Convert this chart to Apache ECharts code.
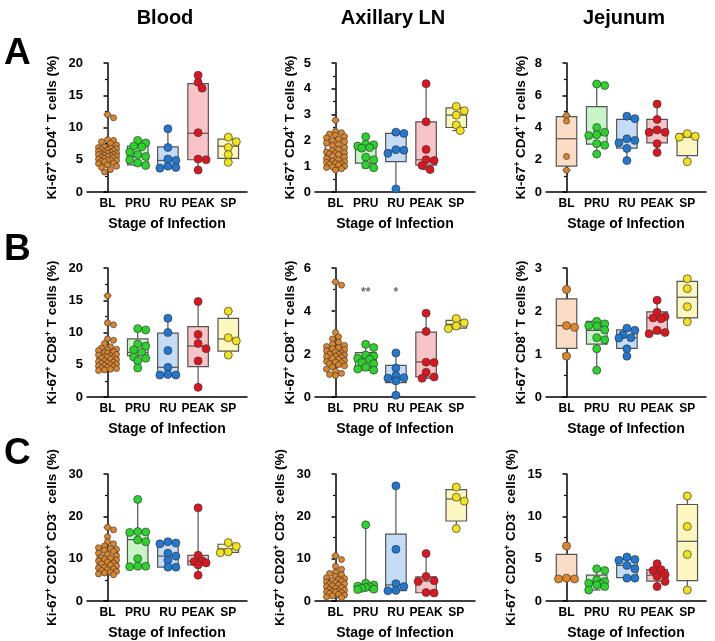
<!DOCTYPE html>
<html><head><meta charset="utf-8">
<script src="https://cdn.jsdelivr.net/npm/echarts@6/dist/echarts.min.js"></script>
<style>html,body{margin:0;padding:0;background:#fff}#c{width:715px;height:641px}</style>
</head><body><div id="c"></div>
<script>
// ---------- DATA ----------
const categories = ['BL', 'PRU', 'RU', 'PEAK', 'SP'];
const tissues = ['Blood', 'Axillary LN', 'Jejunum'];
const panelLetters = ['A', 'B', 'C'];
const xTitle = 'Stage of Infection';
// y-axis maxima and tick steps per row (A,B,C) and column (Blood, ALN, Jejunum)
const yAxisMax = [[20, 5, 8], [20, 6, 3], [30, 30, 15]];
const yAxisStep = [[5, 1, 2], [5, 2, 1], [10, 10, 5]];
const sigMarks = ['', '**', '*', '', ''];
const sigLevel = 4.85;

// Row A: Ki-67+ CD4+ T cells (%)
const bloodCD4 = [
  [12.0, 11.5, 8.1, 8.0, 7.8, 7.5, 7.3, 7.0, 6.9, 6.8, 6.7, 6.6, 6.5, 6.4, 6.3, 6.2, 6.1, 6.0, 6.0, 5.9, 5.8, 5.8, 5.7, 5.6, 5.5, 5.5, 5.4, 5.3, 5.2, 5.1, 5.0, 4.9, 4.9, 4.8, 4.7, 4.5, 4.4, 4.2, 4.0, 3.8, 3.5, 3.1],
  [8.0, 7.6, 7.1, 7.0, 6.2, 5.8, 5.5, 5.0, 4.5, 4.1],
  [9.8, 6.9, 5.1, 4.9, 4.0, 3.8, 3.7],
  [18.1, 17.0, 16.1, 9.2, 5.1, 5.0, 3.4],
  [8.5, 7.8, 6.9, 5.8, 4.6]
];
const bloodCD4Box = [[3.1, 4.9, 5.8, 6.9, 12.0], [4.1, 4.2, 5.5, 7.1, 8.0], [3.7, 3.85, 4.9, 7.0, 9.8], [3.4, 5.0, 9.1, 16.8, 18.1], [4.6, 5.2, 7.1, 8.2, 8.5]];

const alnCD4 = [
  [2.78, 2.35, 2.3, 2.25, 2.2, 2.15, 2.1, 2.05, 2.0, 1.95, 1.9, 1.85, 1.8, 1.72, 1.65, 1.6, 1.55, 1.52, 1.5, 1.48, 1.45, 1.4, 1.35, 1.3, 1.25, 1.2, 1.18, 1.15, 1.12, 1.1, 1.08, 1.05, 1.0, 0.98, 0.95, 0.9, 0.85],
  [2.14, 1.85, 1.83, 1.78, 1.72, 1.7, 1.35, 1.25, 1.05, 0.94],
  [2.32, 2.27, 1.64, 1.62, 1.5, 0.12],
  [4.2, 2.72, 1.65, 1.25, 1.22, 1.03, 0.87],
  [3.32, 3.15, 2.98, 2.6, 2.38]
];
const alnCD4Box = [[0.85, 1.13, 1.5, 2.06, 2.78], [0.94, 1.12, 1.72, 1.8, 2.14], [0.12, 1.18, 1.62, 2.27, 2.32], [0.87, 1.04, 1.25, 2.72, 4.2], [2.38, 2.5, 2.98, 3.26, 3.32]];

const jejCD4 = [
  [4.75, 4.4, 2.2, 1.35],
  [6.7, 6.6, 4.0, 3.7, 3.55, 3.5, 3.0, 2.9, 2.35],
  [4.7, 4.55, 3.3, 3.2, 3.05, 2.7, 1.95],
  [5.45, 4.5, 3.85, 3.7, 3.7, 3.0, 2.45],
  [3.62, 3.45, 3.4, 1.88]
];
const jejCD4Box = [[1.35, 1.6, 3.3, 4.68, 4.75], [2.35, 2.97, 3.55, 5.3, 6.7], [1.95, 2.72, 3.25, 4.5, 4.7], [2.45, 3.05, 3.8, 4.5, 5.45], [1.88, 2.25, 3.4, 3.6, 3.62]];

// Row B: Ki-67+ CD8+ T cells (%)
const bloodCD8 = [
  [15.7, 11.5, 11.2, 9.0, 8.8, 8.3, 7.8, 7.6, 7.4, 7.3, 7.2, 7.0, 6.9, 6.8, 6.6, 6.5, 6.4, 6.3, 6.2, 6.1, 6.0, 5.9, 5.8, 5.6, 5.5, 5.4, 5.3, 5.2, 5.1, 5.0, 4.9, 4.8, 4.7, 4.6, 4.5, 4.4, 4.3, 4.2, 4.1],
  [10.6, 10.4, 8.2, 7.9, 7.3, 6.9, 6.2, 6.0, 5.6, 4.5],
  [12.2, 10.0, 7.2, 4.6, 3.5, 3.4, 3.4],
  [14.8, 9.7, 8.3, 7.5, 5.6, 1.5],
  [13.3, 9.2, 8.7, 6.5]
];
const bloodCD8Box = [[4.1, 4.9, 6.2, 7.3, 15.7], [4.5, 6.4, 6.9, 9.0, 10.6], [3.4, 3.4, 4.6, 9.9, 12.2], [1.5, 4.7, 7.9, 10.9, 14.8], [6.5, 7.1, 9.0, 12.2, 13.3]];

const alnCD8 = [
  [5.35, 5.2, 3.0, 2.8, 2.7, 2.55, 2.45, 2.4, 2.35, 2.3, 2.25, 2.2, 2.15, 2.1, 2.05, 2.0, 1.98, 1.95, 1.9, 1.88, 1.85, 1.8, 1.75, 1.7, 1.65, 1.62, 1.6, 1.55, 1.5, 1.45, 1.4, 1.3, 1.2, 1.1, 1.05, 1.0],
  [2.45, 2.3, 1.95, 1.9, 1.8, 1.75, 1.6, 1.55, 1.38, 1.3, 1.25],
  [2.05, 1.35, 1.0, 0.9, 0.88, 0.75, 0.08],
  [3.9, 3.05, 1.62, 1.6, 1.15, 0.93, 0.87],
  [3.65, 3.45, 3.3, 3.18]
];
const alnCD8Box = [[1.0, 1.64, 1.95, 2.33, 5.35], [1.25, 1.36, 1.83, 2.06, 2.45], [0.08, 0.67, 0.89, 1.47, 2.05], [0.87, 0.94, 1.63, 3.02, 3.9], [3.18, 3.2, 3.38, 3.56, 3.65]];

const jejCD8 = [
  [2.5, 1.66, 1.62, 0.95],
  [1.76, 1.7, 1.66, 1.65, 1.56, 1.38, 1.33, 1.12, 0.62],
  [1.6, 1.55, 1.45, 1.38, 1.37, 1.12, 0.95],
  [2.25, 1.97, 1.87, 1.84, 1.82, 1.55, 1.5, 1.47],
  [2.75, 2.52, 2.1, 1.75]
];
const jejCD8Box = [[0.95, 1.13, 1.66, 2.28, 2.5], [0.62, 1.23, 1.55, 1.76, 1.77], [0.95, 1.13, 1.38, 1.56, 1.6], [1.47, 1.5, 1.84, 1.98, 2.25], [1.75, 1.84, 2.32, 2.69, 2.75]];

// Row C: Ki-67+ CD20+ CD3- cells (%)
const bloodCD20 = [
  [17.4, 16.8, 15.2, 14.0, 13.5, 13.0, 12.6, 12.4, 12.2, 12.0, 11.7, 11.3, 11.0, 10.7, 10.4, 10.1, 9.9, 9.7, 9.5, 9.2, 9.0, 8.8, 8.5, 8.3, 8.0, 7.8, 7.6, 7.4, 7.2, 7.0, 6.8, 6.6, 6.4, 6.2],
  [24.0, 16.4, 16.3, 16.2, 14.4, 14.0, 10.0, 8.2, 8.2, 8.1],
  [14.0, 13.7, 13.5, 11.3, 10.6, 9.6, 8.0, 8.0],
  [22.0, 10.8, 9.5, 9.3, 9.0, 8.5, 6.1],
  [13.8, 12.9, 11.6, 11.4]
];
const bloodCD20Box = [[6.2, 7.7, 9.95, 12.4, 17.4], [8.1, 8.2, 14.5, 16.4, 24.0], [8.0, 8.0, 10.6, 13.6, 14.0], [6.1, 8.5, 9.4, 10.8, 22.0], [11.4, 11.5, 12.3, 13.4, 13.8]];

const alnCD20 = [
  [10.7, 9.8, 8.2, 7.5, 6.8, 6.5, 6.2, 5.8, 5.5, 5.3, 5.1, 4.9, 4.7, 4.5, 4.3, 4.1, 4.0, 3.8, 3.6, 3.4, 3.2, 3.0, 2.8, 2.6, 2.4, 2.3, 2.2, 2.1, 2.0, 1.8, 1.6, 1.4, 1.2, 1.0, 0.8],
  [18.0, 4.2, 3.8, 3.5, 3.4, 3.2, 3.0, 2.8, 2.7],
  [27.2, 12.2, 4.1, 3.4, 2.5, 2.4],
  [11.2, 5.8, 4.8, 4.6, 2.0, 1.9],
  [26.9, 24.5, 23.6, 17.1]
];
const alnCD20Box = [[0.8, 2.1, 3.9, 5.3, 10.7], [2.7, 2.8, 3.4, 4.0, 18.0], [2.4, 2.45, 3.8, 15.8, 27.2], [1.9, 1.95, 4.7, 5.7, 11.2], [17.1, 18.9, 24.1, 26.3, 26.9]];

const jejCD20 = [
  [6.5, 2.7, 2.6, 2.6],
  [3.8, 3.6, 2.5, 2.3, 2.1, 2.0, 1.9, 1.7, 1.3],
  [5.2, 4.9, 4.8, 4.2, 3.8, 2.7, 2.7],
  [4.4, 3.7, 3.6, 3.1, 2.9, 2.3, 1.7],
  [12.4, 8.8, 5.5, 1.3]
];
const jejCD20Box = [[2.6, 2.6, 2.65, 5.5, 6.5], [1.3, 2.05, 2.3, 3.05, 3.8], [2.7, 2.75, 4.2, 4.9, 5.2], [1.7, 2.35, 3.05, 3.7, 4.4], [1.3, 2.4, 7.05, 11.4, 12.4]];

// ---------- STYLE / LAYOUT ----------
const FONT = '"Liberation Sans", Arial, sans-serif';
const pointColors = ['#e0862a', '#2bd42b', '#1f78d2', '#e0141e', '#f2e21c'];
const boxFills = ['#fcdcc4', '#c8f4c8', '#c4dcf6', '#f9c4c8', '#fdf7c0'];
const colLeft = [87, 315, 546];
const rowTop = [63, 268, 474];
const GRID_W = 160, GRID_H = 129;
const X_MIN = -0.68, X_MAX = 4.62;

const yNames = [
  '{t|Ki-67}{s|+}{t| CD4}{s|+}{t| T cells (%)}',
  '{t|Ki-67}{s|+}{t| CD8}{s|+}{t| T cells (%)}',
  '{t|Ki-67}{s|+}{t| CD20}{s|+}{t| CD3}{s|-}{t|  cells (%)}'
];
const panelData = [
  [[bloodCD4, bloodCD4Box], [alnCD4, alnCD4Box], [jejCD4, jejCD4Box]],
  [[bloodCD8, bloodCD8Box], [alnCD8, alnCD8Box], [jejCD8, jejCD8Box]],
  [[bloodCD20, bloodCD20Box], [alnCD20, alnCD20Box], [jejCD20, jejCD20Box]]
];

// beeswarm layout (pixel offsets, bounded to about the box width)
function swarm(vals, size, yPerUnit, xPerUnit, maxHalf) {
  const order = vals.map((v, k) => k).sort((a, b) => vals[b] - vals[a]);
  const placed = [];
  const res = new Array(vals.length).fill(0);
  const d = size * 0.85;
  const step = size * 0.5;
  const cands = [0];
  for (let j = 1; j * step <= maxHalf + 0.01; j++) { cands.push(j * step); cands.push(-j * step); }
  for (const k of order) {
    const py = vals[k] * yPerUnit;
    let chosen = null, bestOff = 0, bestDist = -1;
    for (const off of cands) {
      let minD = Infinity;
      for (const p of placed) {
        const dx = p[0] - off, dy = p[1] - py;
        minD = Math.min(minD, Math.sqrt(dx * dx + dy * dy));
      }
      if (minD >= d) { chosen = off; break; }
      if (minD > bestDist + 0.3) { bestDist = minD; bestOff = off; }
    }
    if (chosen === null) chosen = bestOff;
    placed.push([chosen, py]);
    res[k] = chosen / xPerUnit;
  }
  return res;
}

const grids = [], xAxes = [], yAxes = [], series = [], graphics = [];
const axisLineStyle = { color: '#000', width: 1.5 };
const xPerUnit = GRID_W / (X_MAX - X_MIN);

for (let r = 0; r < 3; r++) {
  for (let c = 0; c < 3; c++) {
    const idx = r * 3 + c;
    const yMax = yAxisMax[r][c];
    const [pts, box] = panelData[r][c];
    grids.push({ left: colLeft[c], top: rowTop[r], width: GRID_W, height: GRID_H });
    xAxes.push({
      type: 'value', gridIndex: idx, min: X_MIN, max: X_MAX,
      axisLine: { show: true, lineStyle: axisLineStyle, onZero: false },
      axisTick: { show: false }, splitLine: { show: false },
      axisLabel: {
        customValues: [0, 1, 2, 3, 4], formatter: v => categories[Math.round(v)],
        color: '#000', fontWeight: 'bold', fontSize: 12, fontFamily: FONT, margin: 6
      },
      name: xTitle, nameLocation: 'middle', nameGap: 25,
      nameTextStyle: { color: '#000', fontWeight: 'bold', fontSize: 14, fontFamily: FONT }
    });
    yAxes.push({
      type: 'value', gridIndex: idx, min: 0, max: yMax, interval: yAxisStep[r][c],
      axisLine: { show: true, lineStyle: axisLineStyle },
      axisTick: { show: true, length: 4, lineStyle: { color: '#000', width: 1.5 } },
      minorTick: { show: true, splitNumber: 2, length: 2.5, lineStyle: { color: '#000', width: 1.2 } },
      splitLine: { show: false },
      axisLabel: { color: '#000', fontWeight: 'bold', fontSize: 13, fontFamily: FONT, margin: 4 },
      name: yNames[r], nameLocation: 'middle', nameRotate: 90,
      nameGap: yMax >= 10 ? 27 : 17,
      nameTextStyle: {
        rich: {
          t: { fontSize: 13.5, fontWeight: 'bold', fontFamily: FONT, color: '#000', lineHeight: 16 },
          s: { fontSize: 8.5, fontWeight: 'bold', fontFamily: FONT, color: '#000', verticalAlign: 'top', lineHeight: 16 }
        }
      }
    });
    // boxes
    series.push({
      type: 'custom', xAxisIndex: idx, yAxisIndex: idx, z: 2,
      data: box.map((b, i) => [i].concat(b)),
      renderItem: (params, api) => {
        const i = api.value(0);
        const cx = api.coord([i, 0])[0];
        const y = k => api.coord([i, api.value(k)])[1];
        const ymn = y(1), yq1 = y(2), ymd = y(3), yq3 = y(4), ymx = y(5);
        const hw = api.size([0.68, 0])[0] / 2;
        const cw = api.size([0.26, 0])[0] / 2;
        const st = { stroke: '#555', lineWidth: 1.2 };
        return {
          type: 'group', children: [
            { type: 'line', shape: { x1: cx, y1: ymx, x2: cx, y2: ymn }, style: st },
            { type: 'line', shape: { x1: cx - cw, y1: ymx, x2: cx + cw, y2: ymx }, style: st },
            { type: 'line', shape: { x1: cx - cw, y1: ymn, x2: cx + cw, y2: ymn }, style: st },
            { type: 'rect', shape: { x: cx - hw, y: yq3, width: 2 * hw, height: yq1 - yq3 }, style: { fill: boxFills[i], stroke: '#555', lineWidth: 1.2 } },
            { type: 'line', shape: { x1: cx - hw, y1: ymd, x2: cx + hw, y2: ymd }, style: st }
          ]
        };
      }
    });
    // points
    const yPerUnit = GRID_H / yMax;
    const data = [];
    pts.forEach((vals, i) => {
      const dense = i === 0 && (vals.length > 10 || (r === 0 && c === 2));
      const size = dense ? 6 : 8;
      const offs = swarm(vals, size, yPerUnit, xPerUnit, dense ? 9 : 10);
      vals.forEach((v, k) => data.push({ value: [i + offs[k], v], symbolSize: size, itemStyle: { color: pointColors[i] } }));
    });
    series.push({
      type: 'scatter', xAxisIndex: idx, yAxisIndex: idx, z: 3, data,
      itemStyle: { borderColor: '#3a3a3a', borderWidth: 0.7, opacity: 1 },
      emphasis: { disabled: true }, silent: true
    });
    if (r === 1 && c === 1) {
      series.push({
        type: 'scatter', xAxisIndex: idx, yAxisIndex: idx, z: 4, symbolSize: 1,
        itemStyle: { color: 'rgba(0,0,0,0)' },
        data: sigMarks.map((m, i) => ({ value: [i, sigLevel], label: { show: m !== '', formatter: m } })),
        label: { show: true, position: 'inside', color: '#444', fontSize: 12, fontWeight: 'bold', fontFamily: FONT }
      });
    }
  }
}

const colCenters = colLeft.map(l => l + GRID_W / 2);
tissues.forEach((t, c) => graphics.push({
  type: 'text', x: colCenters[c] - 2, y: 8,
  style: { text: t, font: 'bold 20px ' + FONT, fill: '#000', textAlign: 'center' }
}));
panelLetters.forEach((t, r) => graphics.push({
  type: 'text', x: 4, y: [35, 231, 435][r],
  style: { text: t, font: 'bold 37px ' + FONT, fill: '#000', textAlign: 'left' }
}));

const chart = echarts.init(document.getElementById('c'), null, { renderer: 'canvas' });
chart.setOption({
  animation: false, backgroundColor: '#fff',
  grid: grids, xAxis: xAxes, yAxis: yAxes, series, graphic: graphics
});
</script></body></html>
